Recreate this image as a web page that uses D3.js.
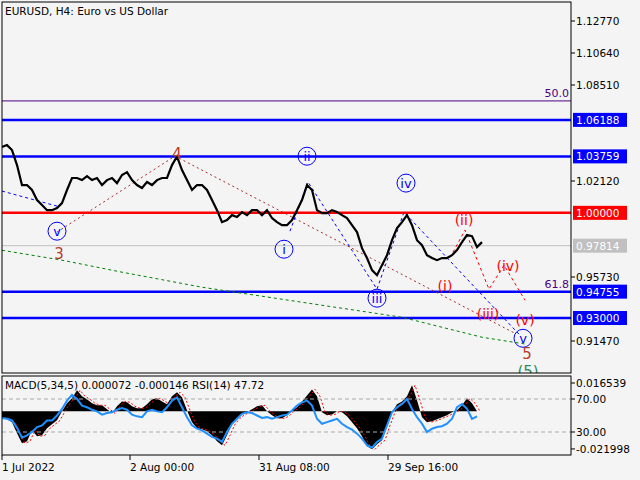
<!DOCTYPE html>
<html><head><meta charset="utf-8">
<script src="https://cdn.jsdelivr.net/npm/d3@7"></script>
<style>body{margin:0;background:#f4f4f4}svg{display:block;font-family:"DejaVu Sans",sans-serif}</style>
</head><body><svg id="c" width="640" height="480"></svg>
<script>
// price closes, one every 5 px step (H4 bars aggregated)
const prices = [1.0438,1.0451,1.0418,1.0318,1.0185,1.0185,1.0152,1.0085,1.0052,1.0018,1.0018,1.0032,1.0065,1.0152,1.0232,1.0232,1.0218,1.0245,1.0218,1.0232,
1.0185,1.0218,1.0232,1.0198,1.0252,1.0271,1.0218,1.0185,1.0165,1.0205,1.0185,1.0218,1.0232,1.0232,1.0318,1.0375,1.0285,1.0218,1.0152,1.0185,
1.0185,1.0152,1.0085,1.0018,0.9938,0.9952,0.9985,0.9972,1.0005,0.9985,1.0018,1.0018,0.9985,1.0018,0.9965,0.9938,0.9918,0.9918,0.9952,1.0018,
1.0085,1.0185,1.0152,1.0018,0.9998,0.9998,1.0018,1.0005,0.9985,0.9965,0.9918,0.9872,0.9765,0.9699,0.9619,0.9585,0.9652,0.9718,0.9818,0.9898,
0.9938,0.9985,0.9918,0.9818,0.9785,0.9718,0.9699,0.9685,0.9699,0.9699,0.9718,0.9752,0.9805,0.9852,0.9845,0.9772,0.9805];
const macd = [-4.1,-4.7,-6.4,-12.8,-18.7,-17.5,-11.1,-14.6,-14,-9.9,-7.6,-5.3,0,4.7,7.6,12.3,8.8,7,4.7,3.5,
3.5,1.2,-1.2,2.9,5.8,5.3,2.9,1.8,1.8,4.1,7,7.6,5.8,4.1,8.8,11.1,8.2,0.6,-6.4,-9.9,
-10.5,-11.7,-14,-17.5,-19.9,-14,-7.6,-4.1,-1.8,-0.6,1.2,2.9,3.5,0,-2.3,-4.1,-4.1,-2.3,0.6,2.3,
5.8,9.3,12.8,8.8,-0.6,-2.3,-1.8,0,-0.6,-2.9,-6.4,-9.9,-14.6,-20.4,-22.2,-19.3,-16.9,-8.2,-0.6,4.1,
5.8,8.8,15.2,6.4,-3.5,-6.4,-5.8,-4.7,-3.5,-2.3,-0.6,0.6,3.5,7.6,4.7,0];
const rsi = [47,46,44,35,23,26,30,36,38,44,44,50,58,68,75,70,62,60,57,55,
51,53,54,57,59,57,51,49,48,55,57,55,54,60,68,72,60,48,38,34,
32,28,24,22,18,30,40,46,52,54,53,50,47,48,46,48,50,51,56,62,
66,68,62,46,40,42,44,46,40,36,33,28,22,14,11,18,22,38,54,60,
64,70,58,48,40,30,34,36,37,40,46,60,64,58,46,49];
const priceTicks = [1.1277,1.1064,1.0851,1.0638,1.0425,1.0212,0.9999,0.9786,0.9573,0.936,0.9147];
const levels = [
  {p:1.06188, c:"#0000ff", box:"#0000ff", t:"#fff"},
  {p:1.03759, c:"#0000ff", box:"#0000ff", t:"#fff"},
  {p:1.00000, c:"#ff0000", box:"#ff0000", t:"#fff"},
  {p:0.97814, c:"#c0c0c0", box:"#c0c0c0", t:"#fff", thin:true},
  {p:0.94755, c:"#0000ff", box:"#0000ff", t:"#fff"},
  {p:0.93000, c:"#0000ff", box:"#0000ff", t:"#fff"}];
const fibo = [{p:1.0745, t:"50.0"}, {p:0.94755, t:"61.8"}];
const dateTicks = [{i:0,t:"1 Jul 2022"},{i:25.6,t:"2 Aug 00:00"},{i:51.4,t:"31 Aug 08:00"},{i:77.2,t:"29 Sep 16:00"}];
// wave marks: [index, price]
const wave5 = [[11,0.9872],[34.6,1.0378],[102.6,0.9198]];
const waveBlue0 = [[0,1.0145],[11,1.0045]];
const waveBlue = [[57.6,0.9878],[61.2,1.0205],[75,0.9492],[80.4,1.0005],[103.6,0.9185]];
const waveRed = [[90.2,0.9738],[92.6,0.9885],[97.4,0.9492],[100.4,0.9652],[104.6,0.9418]];
const maLine = [[0,0.9751],[12,0.9685],[24,0.9605],[40,0.9505],[60,0.9405],[80,0.9305],[96,0.9172],[105,0.9125]];
const blueLabels = [[11,0.9878,"v"],[61,1.0377,"ii"],[56.4,0.9758,"i"],[75,0.9432,"iii"],[80.8,1.0198,"iv"],[104.2,0.9165,"v"]];
const redLabels = [[92.4,0.9952,"(ii)"],[88.6,0.9512,"(i)"],[97.2,0.9325,"(iii)"],[101.2,0.9645,"(iv)"],[104.6,0.9285,"(v)"]];
const brownLabels = [[11.4,0.9735,"3"],[35,1.0398,"4"],[105,0.9065,"5"]];

const svg = d3.select("#c");
const L = 2, R = 571, T = 2, B = 373;
const x = d3.scaleLinear().domain([0,1]).range([L, L+5]);
const y = d3.scaleLinear().domain([1.1277,0.9147]).range([21,341]);
const my = d3.scaleLinear().domain([0,16.539]).range([411.3,383]);
const ry = d3.scaleLinear().domain([30,70]).range([432,399]);

svg.append("rect").attr("width",640).attr("height",480).attr("fill","#f4f4f4");
svg.append("clipPath").attr("id","cm").append("rect").attr("x",L).attr("y",T).attr("width",R-L).attr("height",B-T);
svg.append("clipPath").attr("id","cs").append("rect").attr("x",L).attr("y",376).attr("width",R-L).attr("height",79);
const main = svg.append("g").attr("clip-path","url(#cm)");

fibo.forEach(f => {
  main.append("line").attr("x1",L).attr("x2",R).attr("y1",y(f.p)).attr("y2",y(f.p)).attr("stroke","#4b0082").attr("stroke-width",1);
  svg.append("text").attr("x",R-2).attr("y",y(f.p)-4).attr("text-anchor","end").attr("font-size",11).attr("fill","#4b0082").text(f.t);
});
levels.forEach(l => main.append("line").attr("x1",L).attr("x2",R).attr("y1",y(l.p)).attr("y2",y(l.p))
  .attr("stroke",l.c).attr("stroke-width",l.thin?1:2.5));

const ln = d3.line().x(d => x(d[0])).y(d => y(d[1]));
main.append("path").attr("d",ln(maLine)).attr("fill","none").attr("stroke","#008000").attr("stroke-dasharray","3,3");
main.append("path").attr("d",ln(wave5)).attr("fill","none").attr("stroke","#a52a2a").attr("stroke-dasharray","2,3");
main.append("path").attr("d",ln(waveBlue0)).attr("fill","none").attr("stroke","#0000ff").attr("stroke-dasharray","3,3");
main.append("path").attr("d",ln(waveBlue)).attr("fill","none").attr("stroke","#0000ff").attr("stroke-dasharray","3,3");
main.append("path").attr("d",ln(waveRed)).attr("fill","none").attr("stroke","#ff0000").attr("stroke-dasharray","3,3");

main.append("path").attr("d",d3.line().x((d,i)=>x(i)).y(d=>y(d))(prices))
  .attr("fill","none").attr("stroke","#000").attr("stroke-width",2.2);

blueLabels.forEach(b => {
  main.append("circle").attr("cx",x(b[0])).attr("cy",y(b[1])).attr("r",9).attr("fill","none").attr("stroke","#0000ff");
  main.append("text").attr("x",x(b[0])).attr("y",y(b[1])+5).attr("text-anchor","middle").attr("font-size",13).attr("fill","#0000ff").text(b[2]);
});
redLabels.forEach(b => main.append("text").attr("x",x(b[0])).attr("y",y(b[1])+5).attr("text-anchor","middle").attr("font-size",14).attr("fill","#ff0000").text(b[2]));
brownLabels.forEach(b => main.append("text").attr("x",x(b[0])).attr("y",y(b[1])+6).attr("text-anchor","middle").attr("font-size",15).attr("fill","#b5402a").text(b[2]));
main.append("text").attr("x",x(105.2)).attr("y",B+4).attr("text-anchor","middle").attr("font-size",15).attr("fill","#2e8b57").text("(5)");

// price axis (ticks hidden behind level boxes are skipped)
svg.append("rect").attr("x",L).attr("y",T).attr("width",R-L).attr("height",B-T).attr("fill","none").attr("stroke","#000");
priceTicks.filter(p => levels.every(l => Math.abs(y(p)-y(l.p)) > 12)).forEach(p => {
  svg.append("line").attr("x1",R).attr("x2",R+4).attr("y1",y(p)).attr("y2",y(p)).attr("stroke","#000");
  svg.append("text").attr("x",R+5).attr("y",y(p)+4).attr("font-size",10.5).attr("fill","#000").text(p.toFixed(5));
});
levels.forEach(l => {
  svg.append("rect").attr("x",R+2).attr("y",y(l.p)-7).attr("width",54).attr("height",14).attr("fill",l.box);
  svg.append("text").attr("x",R+5).attr("y",y(l.p)+4).attr("font-size",10.5).attr("fill",l.t).text(l.p.toFixed(5));
});
svg.append("text").attr("x",5).attr("y",15).attr("font-size",10.5).text("EURUSD, H4:  Euro vs US Dollar");

// indicator panel
const sub = svg.append("g").attr("clip-path","url(#cs)");
sub.append("path").attr("d",d3.area().x((d,i)=>x(i)).y0(my(0)).y1(d=>my(d))(macd)).attr("fill","#000");
sub.append("path").attr("d",d3.line().x((d,i)=>x(i+0.6)).y(d=>my(d))(macd)).attr("fill","none").attr("stroke","#ff0000").attr("stroke-dasharray","2,2");
[70,30].forEach(v => sub.append("line").attr("x1",L).attr("x2",R).attr("y1",ry(v)).attr("y2",ry(v)).attr("stroke","#aaa").attr("stroke-dasharray","4,3"));
sub.append("path").attr("d",d3.line().x((d,i)=>x(i)).y(d=>ry(d))(rsi)).attr("fill","none").attr("stroke","#1e90ff").attr("stroke-width",2);
svg.append("rect").attr("x",L).attr("y",376).attr("width",R-L).attr("height",79).attr("fill","none").attr("stroke","#000");
svg.append("text").attr("x",5).attr("y",389).attr("font-size",10.5).text("MACD(5,34,5) 0.000072 -0.000146 RSI(14) 47.72");
[[my(16.539),"0.016539"],[ry(70),"70.00"],[ry(30),"30.00"],[my(-21.998),"-0.021998"]].forEach(t => {
  svg.append("line").attr("x1",R).attr("x2",R+4).attr("y1",t[0]).attr("y2",t[0]).attr("stroke","#000");
  svg.append("text").attr("x",R+5).attr("y",t[0]+4).attr("font-size",10.5).text(t[1]);
});
dateTicks.forEach(d => {
  svg.append("line").attr("x1",x(d.i)).attr("x2",x(d.i)).attr("y1",455).attr("y2",460).attr("stroke","#000");
  svg.append("text").attr("x",x(d.i)).attr("y",471).attr("font-size",10.5).text(d.t);
});
</script></body></html>
